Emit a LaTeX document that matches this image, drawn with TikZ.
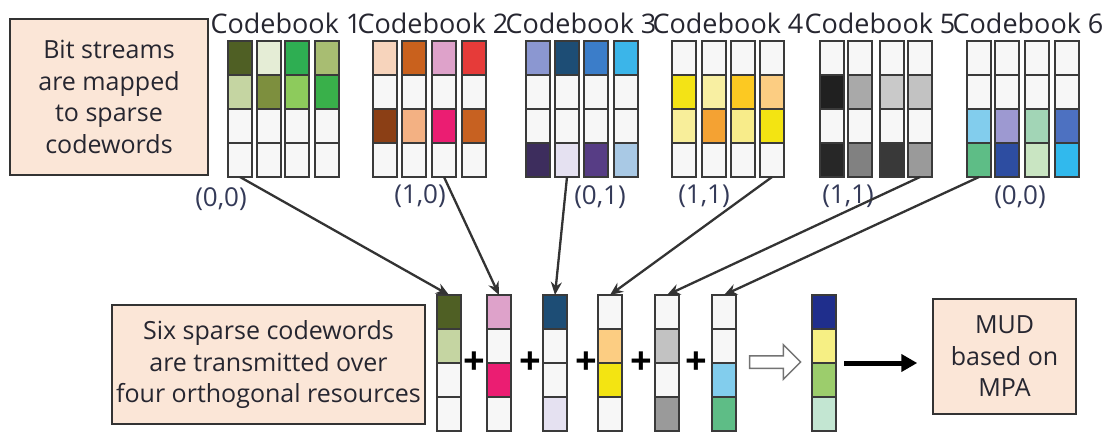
\documentclass[tikz,border=0pt]{standalone}
\usepackage{fontspec}
\setmainfont{Open Sans}
\usetikzlibrary{arrows.meta,shapes.arrows}
\definecolor{wc}{HTML}{F7F7F7}
\definecolor{cellline}{HTML}{3A3A3A}
\definecolor{boxfill}{HTML}{FBE6D7}
\definecolor{txt}{HTML}{262630}
\definecolor{lbl}{HTML}{343A58}
\definecolor{arrowc}{HTML}{333333}
% codebook 1
\definecolor{ca1}{HTML}{4F5F24}\definecolor{ca2}{HTML}{C5D5A2}
\definecolor{ca3}{HTML}{E5EDD6}\definecolor{ca4}{HTML}{7D8F3E}
\definecolor{ca5}{HTML}{2EAE52}\definecolor{ca6}{HTML}{8DCB5C}
\definecolor{ca7}{HTML}{A8BD72}\definecolor{ca8}{HTML}{39B04A}
% codebook 2
\definecolor{cb1}{HTML}{F7D4BC}\definecolor{cb2}{HTML}{8B3F15}
\definecolor{cb3}{HTML}{C9611D}\definecolor{cb4}{HTML}{F3B183}
\definecolor{cb5}{HTML}{DEA2CA}\definecolor{cb6}{HTML}{EB1D72}
\definecolor{cb7}{HTML}{E63B39}\definecolor{cb8}{HTML}{C76121}
% codebook 3
\definecolor{cc1}{HTML}{8B97D1}\definecolor{cc2}{HTML}{3D2D5D}
\definecolor{cc3}{HTML}{1D4D75}\definecolor{cc4}{HTML}{E5E1F1}
\definecolor{cc5}{HTML}{3B7DC9}\definecolor{cc6}{HTML}{573D85}
\definecolor{cc7}{HTML}{3BB5E9}\definecolor{cc8}{HTML}{A9C9E5}
% codebook 4
\definecolor{cd1}{HTML}{F3E316}\definecolor{cd2}{HTML}{F8EE9A}
\definecolor{cd3}{HTML}{F8EFA2}\definecolor{cd4}{HTML}{F4A233}
\definecolor{cd5}{HTML}{FCC922}\definecolor{cd6}{HTML}{F8EC8A}
\definecolor{cd7}{HTML}{FCCD82}\definecolor{cd8}{HTML}{F3E412}
% codebook 5
\definecolor{ce1}{HTML}{202020}\definecolor{ce2}{HTML}{272727}
\definecolor{ce3}{HTML}{A9A9A9}\definecolor{ce4}{HTML}{818181}
\definecolor{ce5}{HTML}{C9C9C9}\definecolor{ce6}{HTML}{393939}
\definecolor{ce7}{HTML}{C2C2C2}\definecolor{ce8}{HTML}{9A9A9A}
% codebook 6
\definecolor{cf1}{HTML}{82CDED}\definecolor{cf2}{HTML}{5EBD86}
\definecolor{cf3}{HTML}{9D99D1}\definecolor{cf4}{HTML}{2D4DA1}
\definecolor{cf5}{HTML}{A2D5B6}\definecolor{cf6}{HTML}{C9E5C2}
\definecolor{cf7}{HTML}{4D71C1}\definecolor{cf8}{HTML}{31B9ED}
% result
\definecolor{rr1}{HTML}{1F2E8C}\definecolor{rr2}{HTML}{F6EF84}
\definecolor{rr3}{HTML}{9CCD6C}\definecolor{rr4}{HTML}{C3E6D2}
\newcommand\mycol[4]{%
  \foreach \cc [count=\i] in {#4} {
    \node[cell, fill=\cc] (#1r\i) at (#2+12, #3+17+34*\i-34) {};
  }%
}
\begin{document}
\begin{tikzpicture}[x=1pt,y=-1pt,
  cell/.style={draw=cellline, line width=1.3pt, minimum width=24pt, minimum height=34pt, inner sep=0pt, outer sep=0pt},
  infobox/.style={draw=black!80, line width=1.5pt, fill=boxfill, align=center, text=txt, inner sep=0pt,
    font=\fontsize{25}{31.5}\selectfont},
  title/.style={text=txt, font=\fontsize{27}{30}\selectfont, inner sep=0pt},
  bits/.style={text=lbl, font=\fontsize{26}{30}\selectfont, inner sep=0pt},
  conn/.style={draw=arrowc, line width=2.3pt, -{Stealth[length=13pt,width=11pt]}},
  plussign/.style={text=black, font=\fontsize{38}{38}\selectfont\bfseries, inner sep=0pt}
]
\useasboundingbox (0,0) rectangle (1110,431);
% info boxes
\node[infobox, minimum width=198pt, minimum height=156pt] (bitbox) at (109,97)
  {Bit streams\\are mapped\\to sparse\\codewords};
\node[infobox, minimum width=313pt, minimum height=119pt] (sixbox) at (268.5,364.5)
  {Six sparse codewords\\are transmitted over\\four orthogonal resources};
\node[infobox, minimum width=143pt, minimum height=115pt] (mud) at (1004.5,356.5)
  {MUD\\based on\\MPA};
% codebook titles
\node[title] (t1) at (286,23) {Codebook 1};
\node[title] (t2) at (433,23) {Codebook 2};
\node[title] (t3) at (581,23) {Codebook 3};
\node[title] (t4) at (728,23) {Codebook 4};
\node[title] (t5) at (880,23) {Codebook 5};
\node[title] (t6) at (1028,23) {Codebook 6};
% codebook 1
\mycol{a1}{228}{41}{ca1,ca2,wc,wc}
\mycol{a2}{257}{41}{ca3,ca4,wc,wc}
\mycol{a3}{285}{41}{ca5,ca6,wc,wc}
\mycol{a4}{315}{41}{ca7,ca8,wc,wc}
% codebook 2
\mycol{b1}{373}{41}{cb1,wc,cb2,wc}
\mycol{b2}{402}{41}{cb3,wc,cb4,wc}
\mycol{b3}{432}{41}{cb5,wc,cb6,wc}
\mycol{b4}{462}{41}{cb7,wc,cb8,wc}
% codebook 3
\mycol{c1}{526}{41}{cc1,wc,wc,cc2}
\mycol{c2}{555}{41}{cc3,wc,wc,cc4}
\mycol{c3}{584}{41}{cc5,wc,wc,cc6}
\mycol{c4}{614}{41}{cc7,wc,wc,cc8}
% codebook 4
\mycol{d1}{672}{41}{wc,cd1,cd2,wc}
\mycol{d2}{702}{41}{wc,cd3,cd4,wc}
\mycol{d3}{731}{41}{wc,cd5,cd6,wc}
\mycol{d4}{760}{41}{wc,cd7,cd8,wc}
% codebook 5
\mycol{e1}{820}{41}{wc,ce1,wc,ce2}
\mycol{e2}{848}{41}{wc,ce3,wc,ce4}
\mycol{e3}{880}{41}{wc,ce5,wc,ce6}
\mycol{e4}{908}{41}{wc,ce7,wc,ce8}
% codebook 6
\mycol{f1}{967}{41}{wc,wc,cf1,cf2}
\mycol{f2}{995}{41}{wc,wc,cf3,cf4}
\mycol{f3}{1025}{41}{wc,wc,cf5,cf6}
\mycol{f4}{1055}{41}{wc,wc,cf7,cf8}
% bit labels
\node[bits] (l1) at (221,199) {(0,0)};
\node[bits] (l2) at (420,196) {(1,0)};
\node[bits] (l3) at (600,197) {(0,1)};
\node[bits] (l4) at (704,196) {(1,1)};
\node[bits] (l5) at (848,196) {(1,1)};
\node[bits] (l6) at (1020,197) {(0,0)};
% transmitted codewords
\mycol{w1}{437}{295}{ca1,ca2,wc,wc}
\mycol{w2}{487}{295}{cb5,wc,cb6,wc}
\mycol{w3}{543}{295}{cc3,wc,wc,cc4}
\mycol{w4}{598}{295}{wc,cd7,cd8,wc}
\mycol{w5}{655}{295}{wc,ce7,wc,ce8}
\mycol{w6}{712}{295}{wc,wc,cf1,cf2}
\mycol{res}{812}{295}{rr1,rr2,rr3,rr4}
% plus signs
\node[plussign] (p1) at (474,363) {+};
\node[plussign] (p2) at (530,363) {+};
\node[plussign] (p3) at (586,363) {+};
\node[plussign] (p4) at (641,363) {+};
\node[plussign] (p5) at (696,363) {+};
% connectors
\draw[conn] (a1r4.south) -- (w1r1.north);
\draw[conn] (b3r4.south) -- (w2r1.north);
\draw[conn] (c2r4.south) -- (w3r1.north);
\draw[conn] (d4r4.south) -- (w4r1.north);
\draw[conn] (e4r4.south) -- (w5r1.north);
\draw[conn] (f1r4.south) -- (w6r1.north);
% hollow arrow
\node[single arrow, draw=black!55, line width=1.5pt, fill=white, minimum height=51pt,
  inner sep=5.5pt, single arrow head extend=11pt, text width=0pt] (sum) at (772,362) {};
% black arrow
\draw[line width=5pt, -{Triangle[length=16pt,width=17pt]}, shorten <=8pt, shorten >=15pt]
  (resr2.south east) -- (mud.west |- resr2.south east);
\end{tikzpicture}
\end{document}
